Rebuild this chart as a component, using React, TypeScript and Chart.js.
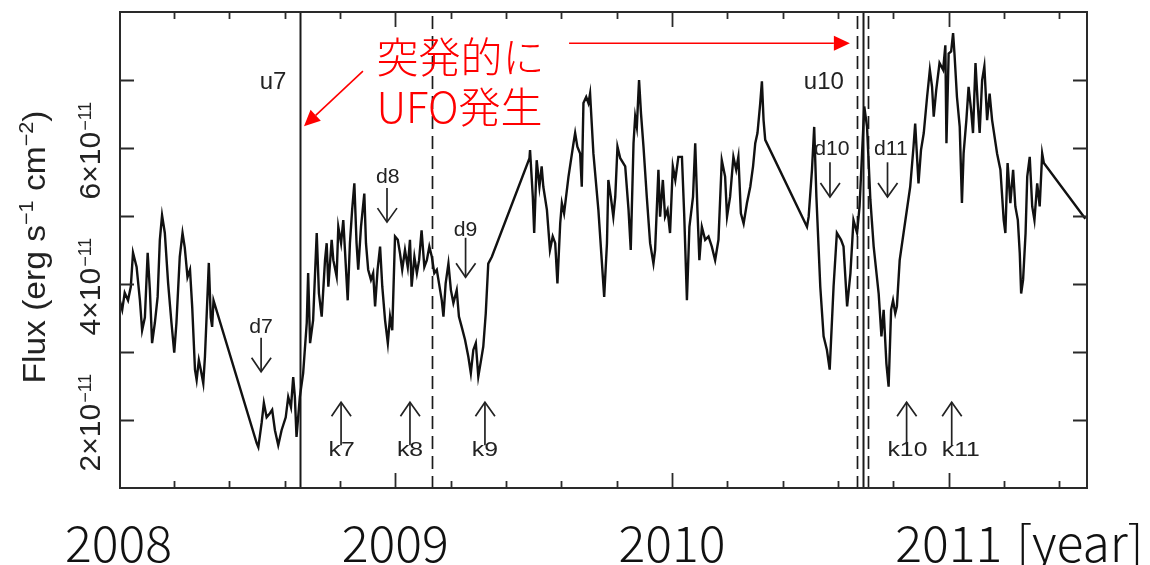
import React, { useEffect, useRef } from 'react';
import { Chart, registerables } from 'chart.js';

Chart.register(...registerables);

// ---- light curve (year, flux in units of 1e-11 erg s^-1 cm^-2) ----
const years = [
  2008.004, 2008.013, 2008.022, 2008.034, 2008.044, 2008.052, 2008.065, 2008.077, 2008.085, 2008.095,
  2008.105, 2008.113, 2008.121, 2008.131, 2008.141, 2008.149, 2008.157, 2008.167, 2008.179, 2008.191,
  2008.201, 2008.209, 2008.221, 2008.231, 2008.239, 2008.249, 2008.258, 2008.266, 2008.276, 2008.282,
  2008.290, 2008.297, 2008.306, 2008.312, 2008.322, 2008.326, 2008.333, 2008.338, 2008.343,
  2008.499, 2008.505, 2008.517, 2008.525, 2008.535, 2008.547, 2008.555, 2008.565, 2008.577, 2008.589,
  2008.604, 2008.613, 2008.623, 2008.631, 2008.637, 2008.643, 2008.655, 2008.667, 2008.680, 2008.685,
  2008.692, 2008.703, 2008.716, 2008.724, 2008.734, 2008.746, 2008.752, 2008.758, 2008.770, 2008.776,
  2008.788, 2008.794, 2008.804, 2008.812, 2008.818, 2008.828, 2008.836, 2008.844, 2008.852, 2008.860,
  2008.866, 2008.876, 2008.888, 2008.894, 2008.902, 2008.912, 2008.920, 2008.927, 2008.936, 2008.945,
  2008.953, 2008.963, 2008.973, 2008.981, 2008.989, 2008.999, 2009.009, 2009.017, 2009.025, 2009.035,
  2009.045, 2009.053, 2009.059, 2009.069, 2009.078, 2009.086, 2009.095, 2009.105, 2009.114, 2009.123,
  2009.132, 2009.141, 2009.150, 2009.158, 2009.168, 2009.174, 2009.182, 2009.192, 2009.201, 2009.210,
  2009.222, 2009.230, 2009.240, 2009.252, 2009.264, 2009.273, 2009.282, 2009.291, 2009.300, 2009.310,
  2009.318, 2009.327, 2009.336, 2009.349,
  2009.485, 2009.487, 2009.497, 2009.502, 2009.511, 2009.521, 2009.529, 2009.535, 2009.548, 2009.559,
  2009.569, 2009.578, 2009.586, 2009.596, 2009.602, 2009.610, 2009.626, 2009.644, 2009.650, 2009.658,
  2009.668, 2009.674, 2009.680, 2009.690, 2009.698, 2009.704, 2009.716, 2009.734, 2009.755, 2009.765,
  2009.770, 2009.779, 2009.788, 2009.795, 2009.803, 2009.813, 2009.831, 2009.843, 2009.851, 2009.861,
  2009.867, 2009.873, 2009.881, 2009.888, 2009.897, 2009.909, 2009.921, 2009.933, 2009.939, 2009.951,
  2009.957, 2009.967, 2009.975, 2009.984, 2009.993, 2010.003, 2010.012, 2010.023, 2010.036, 2010.044,
  2010.054, 2010.063, 2010.076, 2010.084, 2010.092, 2010.099, 2010.108, 2010.120, 2010.132, 2010.144,
  2010.156, 2010.168, 2010.180, 2010.192, 2010.199, 2010.210, 2010.222, 2010.232, 2010.240, 2010.249,
  2010.259, 2010.271, 2010.283, 2010.293, 2010.301, 2010.309, 2010.319, 2010.325, 2010.331, 2010.337,
  2010.488, 2010.494, 2010.506, 2010.514, 2010.522, 2010.536, 2010.548, 2010.560, 2010.570, 2010.584,
  2010.596, 2010.611, 2010.620, 2010.633, 2010.645, 2010.656, 2010.669, 2010.678, 2010.687, 2010.695,
  2010.705, 2010.717, 2010.729, 2010.747, 2010.757, 2010.765, 2010.775, 2010.783, 2010.792, 2010.799,
  2010.807, 2010.813, 2010.823, 2010.837, 2010.861, 2010.873, 2010.879, 2010.891, 2010.900, 2010.910,
  2010.922, 2010.932, 2010.940, 2010.946, 2010.955, 2010.967, 2010.980, 2010.988, 2010.992, 2011.000,
  2011.009, 2011.016, 2011.021, 2011.030, 2011.040, 2011.048, 2011.054, 2011.064, 2011.072, 2011.081,
  2011.088, 2011.097, 2011.105, 2011.112, 2011.121, 2011.129, 2011.139, 2011.148, 2011.157, 2011.175,
  2011.187, 2011.199, 2011.205, 2011.213, 2011.223, 2011.233, 2011.241, 2011.250, 2011.257, 2011.262,
  2011.269, 2011.278, 2011.284, 2011.293, 2011.302, 2011.310, 2011.320, 2011.329, 2011.338, 2011.344,
  2011.494,
];

const flux = [
  3.76, 3.62, 3.87, 3.76, 3.96, 4.46, 4.25, 3.76, 3.32, 3.51,
  4.46, 3.91, 3.13, 3.43, 3.81, 4.65, 5.01, 4.75, 4.01, 3.43,
  2.99, 3.43, 4.40, 4.75, 4.54, 4.10, 4.21, 3.66, 2.74, 2.59,
  2.88, 2.74, 2.54, 2.93, 3.91, 4.31, 3.51, 3.37, 3.76,
  1.66, 1.60, 1.96, 2.25, 2.04, 2.10, 2.15, 1.85, 1.63, 1.85,
  2.04, 2.34, 2.19, 2.63, 2.34, 1.75, 2.34, 2.69, 3.43, 4.16,
  3.13, 3.47, 4.75, 3.86, 3.52, 4.35, 4.60, 3.96, 4.65, 4.35,
  4.11, 4.84, 4.60, 4.94, 4.50, 3.76, 4.60, 5.09, 5.48, 4.60,
  4.21, 4.84, 5.33, 4.60, 4.21, 4.06, 4.16, 3.67, 4.21, 4.55,
  3.96, 3.47, 3.13, 3.52, 3.32, 4.70, 4.65, 4.45, 4.21, 4.50,
  4.25, 4.65, 3.96, 4.40, 4.16, 4.35, 4.79, 4.25, 4.35, 4.55,
  4.40, 4.16, 4.21, 4.01, 3.76, 3.52, 4.01, 4.30, 3.91, 3.72,
  3.91, 3.52, 3.37, 3.18, 2.93, 2.69, 3.03, 3.13, 2.64, 2.88,
  3.08, 3.57, 4.30, 4.40,
  5.85, 5.97, 5.28, 4.75, 5.82, 5.43, 5.73, 5.43, 5.09, 4.50,
  4.70, 4.60, 4.01, 4.89, 5.19, 5.04, 5.58, 6.07, 6.22, 6.02,
  5.92, 5.43, 6.66, 6.75, 6.66, 6.80, 5.92, 5.09, 3.81, 4.60,
  5.53, 5.28, 4.99, 5.28, 6.02, 5.85, 5.73, 5.09, 4.50, 6.07,
  6.46, 6.31, 7.00, 6.51, 6.02, 5.28, 4.60, 4.30, 4.50, 5.68,
  4.99, 5.53, 4.99, 5.09, 4.75, 5.73, 5.53, 5.87, 5.87, 5.04,
  3.76, 4.84, 5.28, 6.07, 5.09, 4.35, 4.84, 4.65, 4.70, 4.55,
  4.35, 4.65, 5.82, 5.58, 4.99, 5.28, 5.87, 5.68, 5.87, 5.04,
  4.89, 5.19, 5.43, 5.73, 6.07, 6.22, 6.66, 6.98, 6.41, 6.12,
  4.84, 4.99, 5.68, 6.31, 5.28, 3.96, 3.23, 3.03, 2.74, 3.96,
  4.75, 4.65, 4.55, 3.67, 4.16, 4.94, 4.75, 5.14, 5.92, 6.61,
  6.31, 5.24, 4.55, 3.86, 3.23, 3.62, 2.83, 2.49, 3.62, 3.76,
  3.57, 3.67, 4.35, 4.75, 5.43, 6.02, 6.36, 5.48, 5.97, 6.22,
  6.75, 7.15, 6.90, 6.46, 6.85, 7.25, 7.15, 7.51, 6.07, 7.39,
  7.42, 7.69, 7.39, 6.75, 6.31, 5.19, 5.92, 6.41, 6.90, 6.56,
  6.22, 7.25, 6.66, 6.22, 7.00, 7.20, 6.41, 6.80, 6.41, 5.92,
  5.68, 4.94, 4.75, 5.78, 5.19, 5.68, 5.14, 4.94, 4.45, 3.86,
  4.06, 4.75, 5.58, 5.87, 5.14, 4.94, 5.48, 5.14, 5.92, 5.78,
  4.96,
];

// ---- axes ----
const xMin = 2008.005;
const xMax = 2011.5;
const yMin = 1;
const yMax = 8;
const yTickMarks = [2, 3, 4, 5, 6, 7];
const yTickLabels = [2, 4, 6];
const xMinorTicks = [2008.2, 2008.4, 2008.6, 2008.8, 2009.2, 2009.4, 2009.6, 2009.8,
  2010.2, 2010.4, 2010.6, 2010.8, 2011.2, 2011.4];
const xMajorTicks = [2009, 2010, 2011];
const yearLabels = ['2008', '2009', '2010', '2011'];
const yearLabelValues = [2008, 2009, 2010, 2011];
const yearUnit = '[year]';

// ---- event markers ----
const solidEvents = [2008.655, 2010.690];
const dashedEvents = [2009.133, 2010.667, 2010.708];
const uLabels = ['u7', 'u10'];
const uYears = [2008.558, 2010.549];
const uFlux = 7.0;
const dLabels = ['d7', 'd8', 'd9', 'd10', 'd11'];
const dArrowYears = [2008.515, 2008.970, 2009.254, 2010.571, 2010.779];
const dTextYears = [2008.515, 2008.973, 2009.254, 2010.578, 2010.791];
const dTextFlux = [3.38, 5.59, 4.81, 6.0, 6.0];
const dArrowTop = [3.21, 5.41, 4.68, 5.79, 5.79];
const dArrowTip = [2.71, 4.91, 4.10, 5.28, 5.28];
const kLabels = ['k7', 'k8', 'k9', 'k10', 'k11'];
const kArrowYears = [2008.804, 2009.053, 2009.324, 2010.848, 2011.011];
const kTextYears = [2008.806, 2009.053, 2009.324, 2010.851, 2011.044];
const kArrowTip = 2.26;
const kArrowBase = 1.63;
const kTextFlux = 1.59;

// ---- red annotation ----
const redLine1 = '突発的に';
const redLine2 = 'UFO発生';
const redTextYear = 2008.932;
const redTextFlux = [7.34, 6.60];
const redArrow1 = { fromYear: 2008.883, fromFlux: 7.13, toYear: 2008.670, toFlux: 6.32 };
const redArrow2 = { fromYear: 2009.628, fromFlux: 7.54, toYear: 2010.643, toFlux: 7.54 };

const SANS = '"Liberation Sans", Arial, Helvetica, sans-serif';
const CJK = '"Noto Sans CJK JP", "Noto Sans", sans-serif';

function chevron(ctx: CanvasRenderingContext2D, x: number, tipY: number, dir: number) {
  // dir = 1: pointing down (tip below), -1: pointing up
  ctx.beginPath();
  ctx.moveTo(x - 9.5, tipY - dir * 14);
  ctx.lineTo(x, tipY);
  ctx.lineTo(x + 10, tipY - dir * 14);
  ctx.stroke();
}

function redArrow(ctx: CanvasRenderingContext2D, x1: number, y1: number, x2: number, y2: number) {
  const ang = Math.atan2(y2 - y1, x2 - x1);
  const L = 16;
  const W = 7.5;
  const bx = x2 - L * Math.cos(ang);
  const by = y2 - L * Math.sin(ang);
  ctx.beginPath();
  ctx.moveTo(x1, y1);
  ctx.lineTo(bx, by);
  ctx.stroke();
  ctx.beginPath();
  ctx.moveTo(x2, y2);
  ctx.lineTo(bx + W * Math.sin(ang), by - W * Math.cos(ang));
  ctx.lineTo(bx - W * Math.sin(ang), by + W * Math.cos(ang));
  ctx.closePath();
  ctx.fill();
}

function scaledText(ctx: CanvasRenderingContext2D, text: string, cx: number, baseY: number, sx: number) {
  ctx.save();
  ctx.translate(cx, baseY);
  ctx.scale(sx, 1);
  ctx.textAlign = 'center';
  ctx.textBaseline = 'alphabetic';
  ctx.fillText(text, 0, 0);
  ctx.restore();
}

const overlay = {
  id: 'overlay',
  beforeDatasetsDraw(chart: any) {
    const { ctx, chartArea: a, scales } = chart;
    const x = scales.x;
    ctx.save();
    ctx.strokeStyle = '#1a1a1a';
    ctx.lineWidth = 2;
    solidEvents.forEach((v) => {
      const px = Math.round(x.getPixelForValue(v)) + 0.5;
      ctx.beginPath();
      ctx.moveTo(px, a.top);
      ctx.lineTo(px, a.bottom);
      ctx.stroke();
    });
    ctx.lineWidth = 1.7;
    ctx.setLineDash([13, 7]);
    dashedEvents.forEach((v) => {
      const px = Math.round(x.getPixelForValue(v)) + 0.5;
      ctx.beginPath();
      ctx.moveTo(px, a.top + 4);
      ctx.lineTo(px, a.bottom);
      ctx.stroke();
    });
    ctx.restore();
  },
  afterDraw(chart: any) {
    const { ctx, chartArea: a, scales } = chart;
    const x = scales.x;
    const y = scales.y;
    ctx.save();

    // frame
    ctx.strokeStyle = '#2a2a2a';
    ctx.lineWidth = 2;
    ctx.strokeRect(a.left, a.top, a.right - a.left, a.bottom - a.top);

    // ticks
    ctx.lineWidth = 1.8;
    yTickMarks.forEach((v) => {
      const py = Math.round(y.getPixelForValue(v)) + 0.5;
      ctx.beginPath();
      ctx.moveTo(a.left, py); ctx.lineTo(a.left + 14, py);
      ctx.moveTo(a.right - 14, py); ctx.lineTo(a.right, py);
      ctx.stroke();
    });
    const xt = (v: number, len: number) => {
      const px = Math.round(x.getPixelForValue(v)) + 0.5;
      ctx.beginPath();
      ctx.moveTo(px, a.bottom); ctx.lineTo(px, a.bottom - len);
      ctx.moveTo(px, a.top); ctx.lineTo(px, a.top + len);
      ctx.stroke();
    };
    xMinorTicks.forEach((v) => xt(v, 7));
    xMajorTicks.forEach((v) => xt(v, 15));

    // y tick labels (rotated)
    ctx.fillStyle = '#222';
    yTickLabels.forEach((v) => {
      const cy = y.getPixelForValue(v) + 3;
      ctx.save();
      ctx.translate(a.left - 20, cy);
      ctx.rotate(-Math.PI / 2);
      ctx.textBaseline = 'alphabetic';
      ctx.textAlign = 'left';
      const main = `${v}×10`;
      const sup = '−11';
      ctx.font = `30px ${SANS}`;
      const w1 = ctx.measureText(main).width;
      ctx.font = `18px ${SANS}`;
      const w2 = ctx.measureText(sup).width;
      const start = -(w1 + w2) / 2;
      ctx.font = `30px ${SANS}`;
      ctx.fillText(main, start, 0);
      ctx.font = `18px ${SANS}`;
      ctx.fillText(sup, start + w1 + 1, -9);
      ctx.restore();
    });

    // y axis title
    {
      const parts: [string, boolean][] = [['Flux (erg s', false], ['−1', true], [' cm', false], ['−2', true], [')', false]];
      const big = `31px ${SANS}`;
      const small = `20px ${SANS}`;
      let total = 0;
      const widths = parts.map(([t, s]) => {
        ctx.font = s ? small : big;
        const w = ctx.measureText(t).width;
        total += w;
        return w;
      });
      const target = 273;
      const sx = target / total;
      ctx.save();
      ctx.translate(45, 247);
      ctx.rotate(-Math.PI / 2);
      ctx.scale(sx, 1);
      ctx.textAlign = 'left';
      ctx.textBaseline = 'alphabetic';
      let pos = -total / 2;
      parts.forEach(([t, s], i) => {
        ctx.font = s ? small : big;
        ctx.fillText(t, pos, s ? -12 : 0);
        pos += widths[i];
      });
      ctx.restore();
    }

    // year labels
    ctx.fillStyle = '#111';
    ctx.font = `300 50px ${CJK}`;
    ctx.textBaseline = 'alphabetic';
    yearLabels.forEach((t, i) => {
      const px = x.getPixelForValue(yearLabelValues[i]);
      ctx.textAlign = 'center';
      ctx.fillText(t, px, a.bottom + 74);
      if (i === yearLabels.length - 1) {
        const w = ctx.measureText(t).width;
        ctx.textAlign = 'left';
        ctx.fillText(yearUnit, px + w / 2 + 14, a.bottom + 74);
      }
    });

    // u labels
    ctx.fillStyle = '#222';
    ctx.font = `24px ${SANS}`;
    uLabels.forEach((t, i) => {
      scaledText(ctx, t, x.getPixelForValue(uYears[i]), y.getPixelForValue(uFlux) + 9, 1.0);
    });

    // d labels with down arrows
    ctx.strokeStyle = '#222';
    ctx.lineWidth = 1.7;
    ctx.font = `20px ${SANS}`;
    dLabels.forEach((t, i) => {
      scaledText(ctx, t, x.getPixelForValue(dTextYears[i]), y.getPixelForValue(dTextFlux[i]) + 7, 1.06);
      const px = x.getPixelForValue(dArrowYears[i]);
      const top = y.getPixelForValue(dArrowTop[i]);
      const tip = y.getPixelForValue(dArrowTip[i]);
      ctx.beginPath();
      ctx.moveTo(px, top); ctx.lineTo(px, tip);
      ctx.stroke();
      chevron(ctx, px, tip, 1);
    });

    // k labels with up arrows
    ctx.font = `21px ${SANS}`;
    kLabels.forEach((t, i) => {
      const px = x.getPixelForValue(kArrowYears[i]);
      const tip = y.getPixelForValue(kArrowTip);
      const base = y.getPixelForValue(kArrowBase);
      ctx.beginPath();
      ctx.moveTo(px, tip); ctx.lineTo(px, base);
      ctx.stroke();
      chevron(ctx, px, tip, -1);
      scaledText(ctx, t, x.getPixelForValue(kTextYears[i]), y.getPixelForValue(kTextFlux) + 8, 1.18);
    });

    // red annotation
    ctx.fillStyle = '#ff0000';
    ctx.strokeStyle = '#ff0000';
    ctx.font = `300 42px ${CJK}`;
    ctx.textAlign = 'left';
    ctx.textBaseline = 'middle';
    ctx.fillText(redLine1, x.getPixelForValue(redTextYear), y.getPixelForValue(redTextFlux[0]));
    ctx.fillText(redLine2, x.getPixelForValue(redTextYear), y.getPixelForValue(redTextFlux[1]));
    ctx.lineWidth = 1.6;
    redArrow(ctx, x.getPixelForValue(redArrow1.fromYear), y.getPixelForValue(redArrow1.fromFlux),
      x.getPixelForValue(redArrow1.toYear), y.getPixelForValue(redArrow1.toFlux));
    redArrow(ctx, x.getPixelForValue(redArrow2.fromYear), y.getPixelForValue(redArrow2.fromFlux),
      x.getPixelForValue(redArrow2.toYear), y.getPixelForValue(redArrow2.toFlux));

    ctx.restore();
  },
};

export default function App() {
  const ref = useRef<HTMLCanvasElement | null>(null);
  useEffect(() => {
    document.body.style.margin = '0';
    const canvas = ref.current;
    if (!canvas) return;
    const chart = new Chart(canvas, {
      type: 'line',
      data: {
        datasets: [
          {
            data: years.map((v, i) => ({ x: v, y: flux[i] })),
            borderColor: '#111111',
            borderWidth: 2.4,
            pointRadius: 0,
            tension: 0,
            fill: false,
          },
        ],
      },
      options: {
        responsive: false,
        animation: false,
        devicePixelRatio: 1,
        layout: { padding: { left: 120, top: 12, right: 63, bottom: 77 } },
        scales: {
          x: { type: 'linear', min: xMin, max: xMax, display: false },
          y: { type: 'linear', min: yMin, max: yMax, display: false },
        },
        plugins: { legend: { display: false }, tooltip: { enabled: false } },
      },
      plugins: [overlay],
    } as any);
    return () => chart.destroy();
  }, []);
  return (
    <div style={{ width: 1150, height: 565, background: '#fff' }}>
      <canvas ref={ref} width={1150} height={565} style={{ display: 'block', width: 1150, height: 565 }} />
    </div>
  );
}
